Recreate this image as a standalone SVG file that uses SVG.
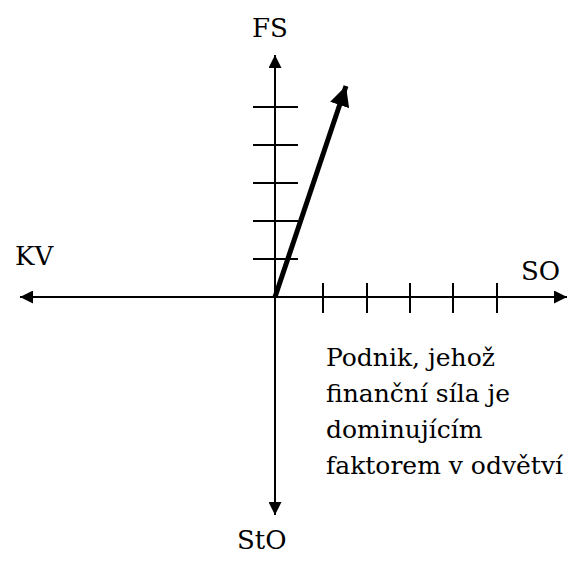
<svg xmlns="http://www.w3.org/2000/svg" width="574" height="561" viewBox="0 0 574 561">
<style>
.t{font-family:"DejaVu Serif","Liberation Serif",serif;font-size:26px;fill:#000}
.p{font-size:25px}
.ax{stroke:#000;stroke-width:2;fill:none}
.tk{stroke:#000;stroke-width:2}
</style>
<defs>
<marker id="ah" viewBox="0 0 10 10" refX="10" refY="5" markerWidth="8" markerHeight="6.5" markerUnits="strokeWidth" orient="auto"><path d="M0,0 L10,5 L0,10 z" fill="#000"/></marker>
<marker id="ahb" viewBox="0 0 10 10" refX="10" refY="5" markerWidth="4" markerHeight="4" markerUnits="strokeWidth" orient="auto"><path d="M0,0 L10,5 L0,10 z" fill="#000"/></marker>
</defs>
<rect width="574" height="561" fill="#fff"/>
<g id="connectors">
<line class="ax" x1="275" y1="297" x2="275" y2="55" marker-end="url(#ah)"/>
<line class="ax" x1="275" y1="297" x2="275" y2="515" marker-end="url(#ah)"/>
<line class="ax" x1="275" y1="297" x2="20" y2="297" marker-end="url(#ah)"/>
<line class="ax" x1="275" y1="297" x2="567" y2="297" marker-end="url(#ah)"/>
<g id="ticks-y">
<line class="tk" x1="253" y1="107" x2="298" y2="107"/>
<line class="tk" x1="253" y1="145" x2="298" y2="145"/>
<line class="tk" x1="253" y1="183" x2="298" y2="183"/>
<line class="tk" x1="253" y1="221" x2="298" y2="221"/>
<line class="tk" x1="253" y1="259" x2="298" y2="259"/>
</g>
<g id="ticks-x">
<line class="tk" x1="323" y1="283" x2="323" y2="313"/>
<line class="tk" x1="367" y1="283" x2="367" y2="313"/>
<line class="tk" x1="410" y1="283" x2="410" y2="313"/>
<line class="tk" x1="453" y1="283" x2="453" y2="313"/>
<line class="tk" x1="497" y1="283" x2="497" y2="313"/>
</g>
<line x1="275" y1="297" x2="346" y2="86" stroke="#000" stroke-width="5" marker-end="url(#ahb)"/>
</g>
<g id="FS"><text class="t" x="252" y="37">FS</text></g>
<g id="KV"><text class="t" x="15" y="265">KV</text></g>
<g id="SO"><text class="t" x="521" y="280">SO</text></g>
<g id="StO"><text class="t" x="237" y="549">StO</text></g>
<g id="note">
<text class="t p" x="326" y="366">Podnik, jehož</text>
<text class="t p" x="326" y="402">finanční síla je</text>
<text class="t p" x="326" y="438">dominujícím</text>
<text class="t p" x="326" y="474">faktorem v odvětví</text>
</g>
</svg>
